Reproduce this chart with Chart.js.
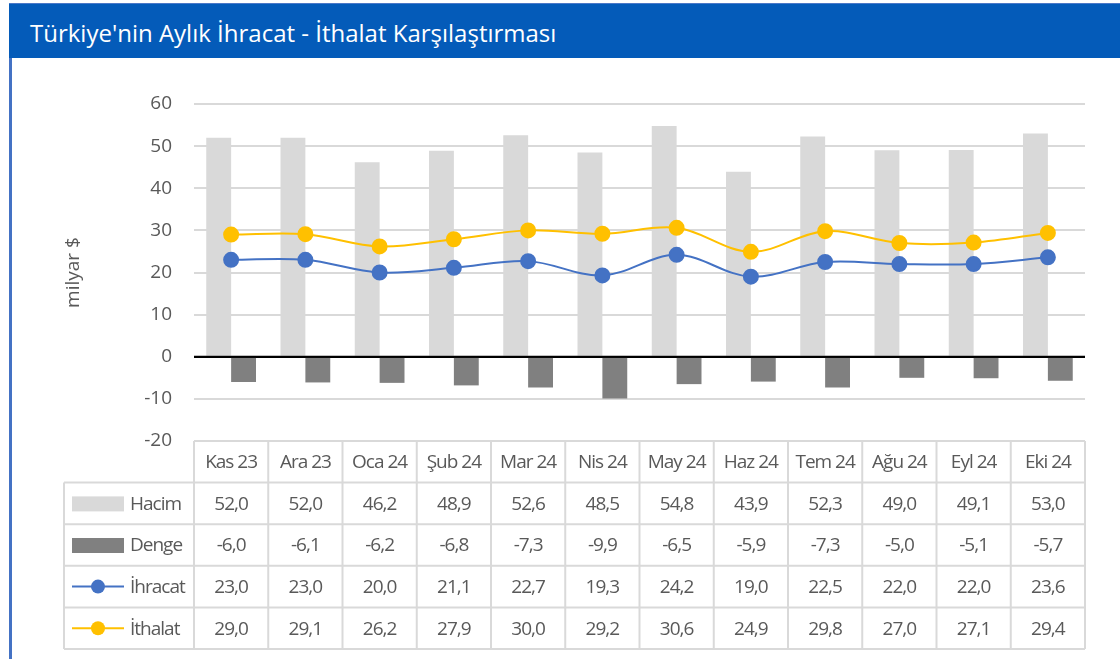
<!DOCTYPE html>
<html lang="tr">
<head>
<meta charset="utf-8">
<title>Türkiye'nin Aylık İhracat - İthalat Karşılaştırması</title>
<script src="https://cdn.jsdelivr.net/npm/chart.js@4.4.1/dist/chart.umd.min.js"></script>
<style>
    html, body { margin: 0; padding: 0; background: #fff; }
    body { width: 1120px; height: 659px; position: relative; overflow: hidden; font-family: "Open Sans", sans-serif; }
    .topline { position: absolute; left: 9px; top: 3px; right: 0; height: 1px; background: #4a78c8; }
    .title { position: absolute; left: 9px; top: 4px; right: 0; height: 54px; background: #045bb9; color: #fff;
             font-size: 24px; display: flex; align-items: center; padding-left: 21px; padding-top: 3px; box-sizing: border-box; }
    .leftline { position: absolute; left: 9px; top: 58px; bottom: 0; width: 3px; background: #4472c4; }
    .chartbox { position: absolute; left: 12px; top: 58px; width: 1108px; height: 601px; }
</style>
</head>
<body>
<div class="topline"></div>
<div class="title">Türkiye'nin Aylık İhracat - İthalat Karşılaştırması</div>
<div class="leftline"></div>
<div class="chartbox"><canvas id="chart"></canvas></div>

<script>
// veriler
const months = ['Kas 23', 'Ara 23', 'Oca 24', 'Şub 24', 'Mar 24', 'Nis 24', 'May 24', 'Haz 24', 'Tem 24', 'Ağu 24', 'Eyl 24', 'Eki 24'];
const hacim   = [52.0, 52.0, 46.2, 48.9, 52.6, 48.5, 54.8, 43.9, 52.3, 49.0, 49.1, 53.0];
const denge   = [-6.0, -6.1, -6.2, -6.8, -7.3, -9.9, -6.5, -5.9, -7.3, -5.0, -5.1, -5.7];
const ihracat = [23.0, 23.0, 20.0, 21.1, 22.7, 19.3, 24.2, 19.0, 22.5, 22.0, 22.0, 23.6];
const ithalat = [29.0, 29.1, 26.2, 27.9, 30.0, 29.2, 30.6, 24.9, 29.8, 27.0, 27.1, 29.4];
const yTicks  = [-20, -10, 0, 10, 20, 30, 40, 50, 60];

const textColor = '#595959';
const gridColor = '#d9d9d9';

Chart.defaults.font.family = '"Open Sans"';
Chart.defaults.color = textColor;

const fmt = v => v.toFixed(1).replace('.', ',');

// sıfır çizgisi barların üstünde kalsın
const zeroLine = {
    id: 'zeroLine',
    afterDatasetsDraw(chart) {
        const { ctx, chartArea, scales: { y } } = chart;
        const py = y.getPixelForValue(0);
        ctx.save();
        ctx.strokeStyle = '#000';
        ctx.lineWidth = 2;
        ctx.beginPath();
        ctx.moveTo(chartArea.left, py);
        ctx.lineTo(chartArea.right, py);
        ctx.stroke();
        ctx.restore();
    }
};

// veri tablosu (Excel tarzı)
const dataTable = {
    id: 'dataTable',
    afterDraw(chart) {
        const { ctx, chartArea, scales: { x } } = chart;
        const colW = (x.right - x.left) / months.length;
        const rowH = 41.6;
        const top = chartArea.bottom;
        const legendLeft = 52;
        const rows = [
            { label: 'Hacim', data: hacim, type: 'bar', color: '#d9d9d9' },
            { label: 'Denge', data: denge, type: 'bar', color: '#808080' },
            { label: 'İhracat', data: ihracat, type: 'line', color: '#4472c4' },
            { label: 'İthalat', data: ithalat, type: 'line', color: '#ffc000' }
        ];
        const bottom = top + rowH * (rows.length + 1);

        ctx.save();
        ctx.strokeStyle = gridColor;
        ctx.lineWidth = 2;
        ctx.beginPath();
        // yatay çizgiler
        ctx.moveTo(x.left, top);
        ctx.lineTo(x.right, top);
        for (let r = 1; r <= rows.length + 1; r++) {
            ctx.moveTo(legendLeft, top + rowH * r);
            ctx.lineTo(x.right, top + rowH * r);
        }
        // dikey çizgiler
        ctx.moveTo(legendLeft, top + rowH);
        ctx.lineTo(legendLeft, bottom);
        for (let i = 0; i <= months.length; i++) {
            const px = x.left + colW * i;
            ctx.moveTo(px, top);
            ctx.lineTo(px, bottom);
        }
        ctx.stroke();

        ctx.fillStyle = textColor;
        ctx.font = '19px "Open Sans"';
        ctx.letterSpacing = '-1px';
        ctx.textAlign = 'center';
        ctx.textBaseline = 'middle';
        months.forEach((m, i) => ctx.fillText(m, x.getPixelForValue(i), top + rowH / 2 + 1));

        rows.forEach((row, r) => {
            const cy = top + rowH * (r + 1) + rowH / 2;
            ctx.textAlign = 'center';
            ctx.fillStyle = textColor;
            row.data.forEach((v, i) => ctx.fillText(fmt(v), x.getPixelForValue(i), cy + 1));

            // lejant işareti
            if (row.type === 'bar') {
                ctx.fillStyle = row.color;
                ctx.fillRect(60, cy - 7, 52, 15);
            } else {
                ctx.strokeStyle = row.color;
                ctx.lineWidth = 2;
                ctx.beginPath();
                ctx.moveTo(60, cy);
                ctx.lineTo(112, cy);
                ctx.stroke();
                ctx.fillStyle = row.color;
                ctx.beginPath();
                ctx.arc(86, cy, 7, 0, Math.PI * 2);
                ctx.fill();
            }
            ctx.fillStyle = textColor;
            ctx.textAlign = 'left';
            ctx.fillText(row.label, 118, cy + 1);
        });
        ctx.restore();
    }
};

new Chart(document.getElementById('chart'), {
    data: {
        labels: months,
        datasets: [
            {
                type: 'line', label: 'İhracat', data: ihracat, order: 0,
                borderColor: '#4472c4', backgroundColor: '#4472c4',
                borderWidth: 2, pointRadius: 7, tension: 0.35
            },
            {
                type: 'line', label: 'İthalat', data: ithalat, order: 0,
                borderColor: '#ffc000', backgroundColor: '#ffc000',
                borderWidth: 2, pointRadius: 7, tension: 0.35
            },
            {
                type: 'bar', label: 'Hacim', data: hacim, order: 1,
                backgroundColor: '#d9d9d9', barPercentage: 1, categoryPercentage: 0.67
            },
            {
                type: 'bar', label: 'Denge', data: denge, order: 1,
                backgroundColor: '#808080', barPercentage: 1, categoryPercentage: 0.67
            }
        ]
    },
    options: {
        responsive: true, maintainAspectRatio: false,
        animation: false,
        layout: { padding: { top: 46, right: 35, bottom: 218, left: 0 } },
        plugins: { legend: { display: false }, tooltip: { enabled: false } },
        scales: {
            x: { display: false, offset: true },
            y: {
                min: -20, max: 60,
                afterBuildTicks: s => { s.ticks = yTicks.map(v => ({ value: v })); },
                afterFit: s => { s.width = 182; },
                border: { display: false },
                grid: {
                    drawTicks: false,
                    lineWidth: 2,
                    color: c => c.tick && c.tick.value === 0 ? '#000' : gridColor
                },
                ticks: { padding: 22, color: textColor, font: { size: 19 } },
                title: {
                    display: true, text: 'milyar $', color: textColor,
                    font: { size: 19 }, padding: { top: 50, bottom: 0 }
                }
            }
        }
    },
    plugins: [zeroLine, dataTable]
});
</script>
</body>
</html>
